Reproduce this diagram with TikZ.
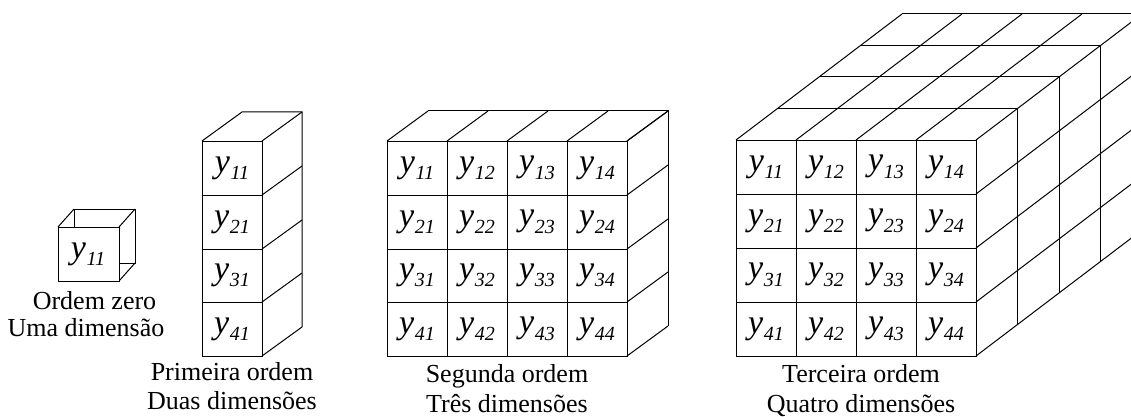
\documentclass[tikz,border=0pt]{standalone}
\usepackage{fontspec}
\setmainfont{Liberation Serif}
\newcommand\ysub[1]{{\fontsize{34}{34}\selectfont\itshape y}\kern0.5pt\raisebox{-7.5pt}{\fontsize{20}{20}\selectfont\itshape #1}}
\tikzset{
  edge/.style={line width=1pt},
  lab/.style={font=\fontsize{26}{30}\selectfont, anchor=base, inner sep=0pt},
  cell/.style={inner sep=0pt, anchor=center}
}
\begin{document}
\begin{tikzpicture}[x=1pt,y=-1pt]
\useasboundingbox (0,0) rectangle (1131,417);
\clip (0,0) rectangle (1131,417);

% ---------- zero order ----------
\draw[edge] (74,209) rectangle (135,263);
\draw[edge] (58,227)--(74,209) (119,227)--(135,209) (119,281)--(135,263);
\draw[edge,fill=white] (58,227) rectangle (119,281);
\node[cell] (z11) at (88,254) {\ysub{11}};
\node[lab] (z1) at (94.5,309) {Ordem zero};
\node[lab] (z2) at (86,336) {Uma dimensão};

% ---------- first order ----------
\draw[edge] (202,141)--(242,112)--(302,112)--(302,327);
\foreach \y in {141,195,249,302,356} \draw[edge] (262,\y)--(302,\y-29);
\foreach \ya/\yb in {141/195,195/249,249/302,302/356} \draw[edge] (202,\ya) rectangle (262,\yb);
\foreach \i/\yc in {1/168,2/222,3/275.5,4/329}
  \node[cell] (a\i) at (232,\yc) {\ysub{\i1}};
\node[lab] (a1l) at (232,380) {Primeira ordem};
\node[lab] (a2l) at (232,409) {Duas dimensões};

% ---------- second order ----------
\draw[edge] (428,111)--(668,111)--(668,326);
\foreach \x in {387,447,507,567,627} \draw[edge] (\x,141)--(\x+41,111);
\foreach \y in {141,195,249,302,356} \draw[edge] (627,\y)--(668,\y-30);
\foreach \x in {387,447,507,567} {
  \foreach \ya/\yb in {141/195,195/249,249/302,302/356}
    \draw[edge] (\x,\ya) rectangle (\x+60,\yb);
}
\foreach \i/\yc in {1/168,2/222,3/275.5,4/329}
  \foreach \j in {1,2,3,4}
    \node[cell] (b\i\j) at ({387+60*(\j-1)+30},\yc) {\ysub{\i\j}};
\node[lab] (b1l) at (507,382) {Segunda ordem};
\node[lab] (b2l) at (507,412) {Três dimensões};

% ---------- third order ----------
\def\dx{41.5}\def\dy{-31.5}
\foreach \k in {1,2,3,4}
  \draw[edge] ({736+\k*\dx},{140+\k*\dy})--({976+\k*\dx},{140+\k*\dy});
\foreach \x in {736,796,856,916,976}
  \draw[edge] (\x,140)--({\x+4*\dx},{140+4*\dy});
\foreach \y in {194,248,302,356}
  \draw[edge] (976,\y)--({976+4*\dx},{\y+4*\dy});
\foreach \k in {1,2,3,4}
  \draw[edge] ({976+\k*\dx},{140+\k*\dy})--({976+\k*\dx},{356+\k*\dy});
\foreach \x in {736,796,856,916} {
  \foreach \ya/\yb in {140/194,194/248,248/302,302/356}
    \draw[edge] (\x,\ya) rectangle (\x+60,\yb);
}
\foreach \i/\yc in {1/167,2/221,3/275,4/329}
  \foreach \j in {1,2,3,4}
    \node[cell] (c\i\j) at ({736+60*(\j-1)+30},\yc) {\ysub{\i\j}};
\node[lab] (c1l) at (861,382) {Terceira ordem};
\node[lab] (c2l) at (861,412) {Quatro dimensões};
\end{tikzpicture}
\end{document}
